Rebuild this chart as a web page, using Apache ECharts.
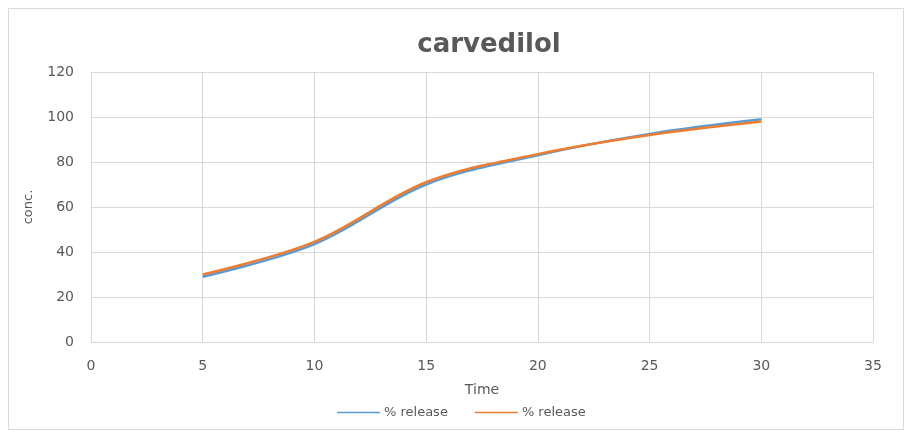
<!DOCTYPE html>
<html><head><meta charset="utf-8">
<script src="https://cdn.jsdelivr.net/npm/echarts@6/dist/echarts.min.js"></script>
<style>html,body{margin:0;padding:0;background:#fff}#c{width:912px;height:434px}</style>
</head><body><div id="c"></div>
<script>
const times = [5, 10, 15, 20, 25, 30];
const release1 = [29, 43.5, 70, 83, 92.5, 99];
const release2 = [30, 44.5, 71, 83.5, 92, 98];
const seriesNames = ['% release', '% release'];
const xTicks = [0, 5, 10, 15, 20, 25, 30, 35];
const yTicks = [0, 20, 40, 60, 80, 100, 120];

const chart = echarts.init(document.getElementById('c'));
const font = 'DejaVu Sans, sans-serif';
const pair = (xs, ys) => xs.map((x, i) => [x, ys[i]]);
chart.setOption({
  animation: false,
  backgroundColor: '#fff',
  graphic: [
    {type: 'rect', shape: {x: 8.5, y: 8.5, width: 895, height: 421}, style: {fill: 'none', stroke: '#d9d9d9', lineWidth: 1}},
    {type: 'text', x: 489, y: 45, style: {text: 'carvedilol', fontFamily: font, fontWeight: 'bold', fontSize: 26, fill: '#595959', textAlign: 'center', textVerticalAlign: 'middle'}}
  ],
  grid: {left: 91, right: 39, top: 72, bottom: 92, containLabel: false},
  legend: {top: 401, left: 332, itemWidth: 43, itemHeight: 1.5, itemGap: 27, icon: 'rect',
    textStyle: {fontFamily: font, fontSize: 13, color: '#595959', padding: [0, 0, 0, -1]}, data: [{name: 's1'}, {name: 's2'}],
    formatter: n => n === 's1' ? seriesNames[0] : seriesNames[1]},
  xAxis: {type: 'value', min: xTicks[0], max: xTicks[xTicks.length - 1], interval: 5,
    name: 'Time', nameLocation: 'middle', nameGap: 41, nameTextStyle: {fontFamily: font, fontSize: 14, color: '#595959'},
    axisLine: {show: true, lineStyle: {color: '#d9d9d9'}}, axisTick: {show: false},
    axisLabel: {fontFamily: font, fontSize: 14, color: '#595959', margin: 17},
    splitLine: {show: true, lineStyle: {color: '#d9d9d9'}}},
  yAxis: {type: 'value', min: yTicks[0], max: yTicks[yTicks.length - 1], interval: 20,
    name: 'conc.', nameLocation: 'middle', nameGap: 56, nameTextStyle: {fontFamily: font, fontSize: 13, color: '#595959'},
    axisLine: {show: false}, axisTick: {show: false},
    axisLabel: {fontFamily: font, fontSize: 14, color: '#595959', margin: 17},
    splitLine: {show: true, lineStyle: {color: '#d9d9d9'}}},
  series: [
    {name: 's1', type: 'line', smooth: 0.35, showSymbol: false, data: pair(times, release1),
      lineStyle: {color: '#5b9bd5', width: 2.5}, itemStyle: {color: '#5b9bd5'}},
    {name: 's2', type: 'line', smooth: 0.35, showSymbol: false, data: pair(times, release2),
      lineStyle: {color: '#ed7d31', width: 2.5}, itemStyle: {color: '#ed7d31'}}
  ]
});
</script></body></html>
